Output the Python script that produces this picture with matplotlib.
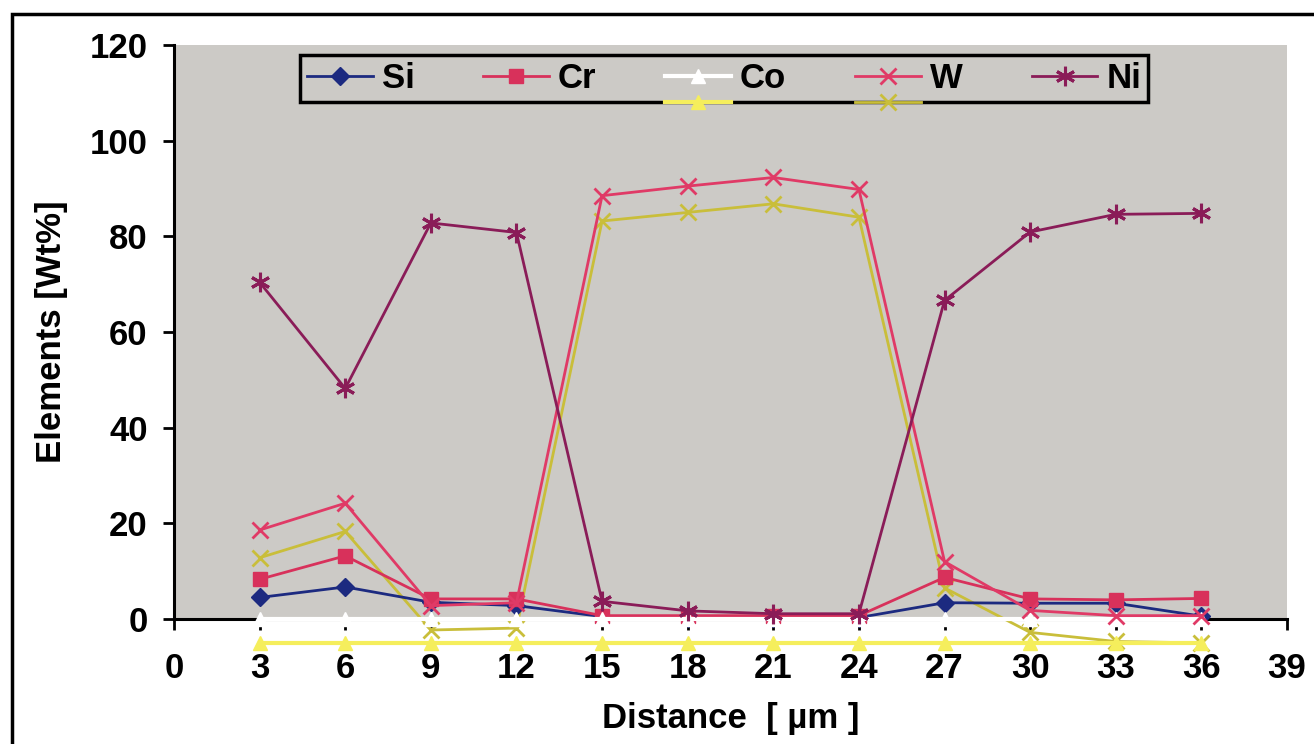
import matplotlib
matplotlib.use("Agg")
import matplotlib.pyplot as plt
from matplotlib.lines import Line2D
from matplotlib.patches import Rectangle
from matplotlib.legend_handler import HandlerLine2D

plt.rcParams['font.family'] = ['Liberation Sans', 'DejaVu Sans']
plt.rcParams['font.weight'] = 'bold'

distance = [3, 6, 9, 12, 15, 18, 21, 24, 27, 30, 33, 36]
si = [4.5, 6.7, 3.5, 2.8, 0.5, 0.3, 0.3, 0.3, 3.4, 3.3, 3.3, 0.6]
cr = [8.3, 13.2, 4.2, 4.2, 0.7, 0.7, 0.7, 0.7, 8.7, 4.2, 4.0, 4.3]
co = [0, 0, 0, 0, 0, 0, 0, 0, 0, 0, 0, 0]
w = [18.6, 24.2, 2.8, 3.4, 88.5, 90.5, 92.3, 89.8, 12.0, 1.8, 0.7, 0.7]
ni = [70.4, 48.2, 82.8, 80.8, 3.7, 1.7, 1.1, 1.1, 66.6, 80.9, 84.6, 84.8]
# misregistered yellow print layer of W and Co
w_ghost = [12.8, 18.3, -2.3, -1.9, 83.2, 85.0, 86.8, 84.0, 6.5, -2.8, -4.7, -5.0]
co_ghost = [-5, -5, -5, -5, -5, -5, -5, -5, -5, -5, -5, -5]

x_ticks = [0, 3, 6, 9, 12, 15, 18, 21, 24, 27, 30, 33, 36, 39]
y_ticks = [0, 20, 40, 60, 80, 100, 120]

fs = 25
bg = '#CCCAC6'

fig = plt.figure(figsize=(13.14, 7.44), dpi=100)
ax = fig.add_axes([174/1314, 1-619/744, 1113/1314, 574/744])
ax.set_facecolor(bg)

ghost_w_style = dict(color='#C9BE3A', lw=2, marker='x', ms=12, mew=2)
ghost_co_style = dict(color='#F5EE5C', lw=3, marker='^', ms=10)

ax.plot(distance, w_ghost, clip_on=False, zorder=2.8, **ghost_w_style)
ax.plot(distance, co_ghost, clip_on=False, zorder=2.8, **ghost_co_style)

l_si, = ax.plot(distance, si, color='#1C2A80', lw=2, marker='D', ms=9, label='Si', clip_on=False, zorder=3.1)
l_cr, = ax.plot(distance, cr, color='#D8315B', lw=2, marker='s', ms=10, label='Cr', clip_on=False, zorder=3.2)
l_co, = ax.plot(distance, co, color='white', lw=3, marker='^', ms=10, label='Co', clip_on=False, zorder=3.3)
l_w, = ax.plot(distance, w, color='#E03A66', lw=2, marker='x', ms=12, mew=2, label='W', clip_on=False, zorder=3.4)
l_ni, = ax.plot(distance, ni, color='#8A1C58', lw=2, marker=(6, 2, 0), ms=14, mew=2.2, label='Ni', clip_on=False, zorder=3.5)

ax.set_xlim(0, 39)
ax.set_ylim(0, 120)
ax.set_xticks(x_ticks)
ax.set_yticks(y_ticks)
ax.spines['top'].set_visible(False)
ax.spines['right'].set_visible(False)
ax.spines['left'].set_linewidth(2.2)
ax.spines['bottom'].set_linewidth(2.2)
ax.tick_params(axis='x', direction='out', length=8, width=2, pad=16, labelsize=fs)
ax.tick_params(axis='y', direction='out', length=8, width=2, pad=11, labelsize=fs)

ax.set_xlabel('Distance  [ µm ]', fontsize=fs, fontweight='bold')
ax.set_ylabel('Elements [Wt%]', fontsize=fs, fontweight='bold')
ax.xaxis.set_label_coords(0.5, -0.145)
ax.yaxis.set_label_coords(-0.095, 0.5)


class GhostHandler(HandlerLine2D):
    def __init__(self, style, **kw):
        super().__init__(**kw)
        self.style = style

    def create_artists(self, legend, orig_handle, xdescent, ydescent, width, height, fontsize, trans):
        arts = super().create_artists(legend, orig_handle, xdescent, ydescent, width, height, fontsize, trans)
        base = arts[0]
        xs = base.get_xdata()
        ys = [y - 19 for y in base.get_ydata()]
        g = Line2D(xs, ys, markevery=[1], **self.style)
        g.set_transform(trans)
        return [g] + list(arts)


leg = ax.legend(handles=[l_si, l_cr, l_co, l_w, l_ni], ncol=5, mode='expand',
                loc='upper left', bbox_to_anchor=(0.1132, 0.0, 0.7619, 0.983),
                borderaxespad=0, borderpad=0.2, handlelength=1.9, handletextpad=0.25,
                prop={'size': fs, 'weight': 'bold'}, fancybox=False,
                facecolor=bg, edgecolor='black', framealpha=1,
                handler_map={l_co: GhostHandler(ghost_co_style), l_w: GhostHandler(ghost_w_style)})
leg.get_frame().set_linewidth(2.5)
leg.set_zorder(5)

# outer frame of the pasted chart
fig.patches.append(Rectangle((12/1314, -0.2), 2, 1.2 - 14/744, transform=fig.transFigure,
                             fill=False, edgecolor='black', lw=2.5, clip_on=False))

fig.savefig('out.png', dpi=100)
